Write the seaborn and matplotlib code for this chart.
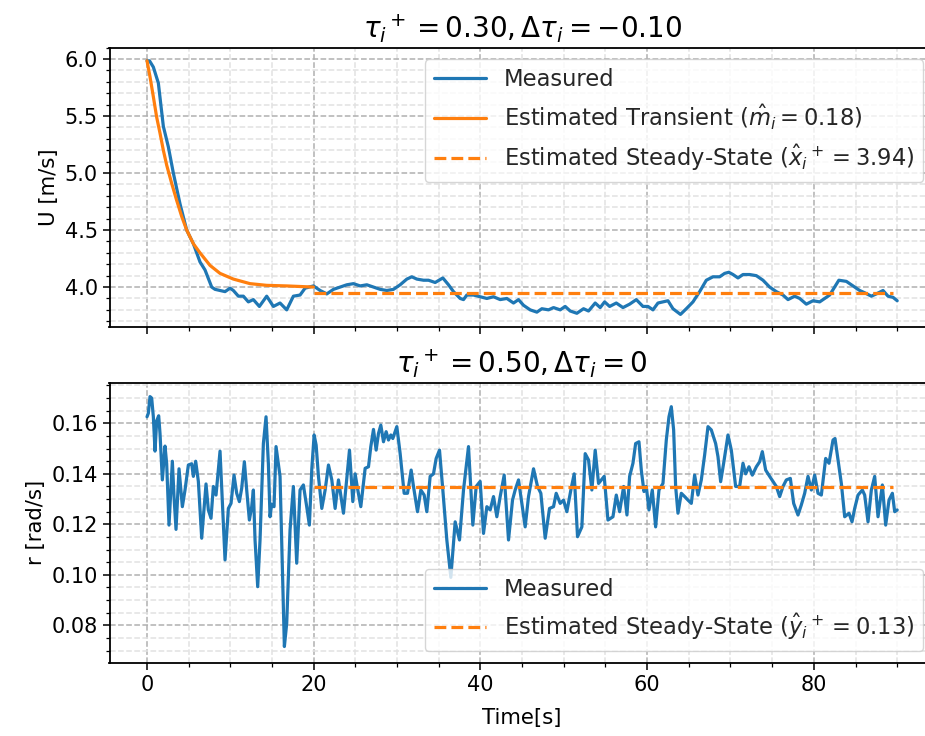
import numpy as np
import pandas as pd
import matplotlib
matplotlib.use("Agg")
import matplotlib.pyplot as plt
import seaborn as sns
from matplotlib.ticker import MultipleLocator

# ---------------- data ----------------
# Top panel: measured surge speed U [m/s]
u_time = [0.0, 0.3, 0.76, 1.36, 1.96, 2.56, 3.16, 3.96, 4.76, 5.56, 6.36, 6.96, 7.76, 8.16, 8.76,
          9.36, 9.96, 10.36, 10.96, 11.56, 12.16, 12.76, 13.48, 14.36, 15.16, 15.96, 16.76, 17.56,
          18.36, 18.96, 19.97, 20.77, 21.57, 22.37, 23.17, 23.97, 24.77, 25.57, 26.37, 27.17,
          27.97, 28.77, 29.57, 30.37, 31.17, 31.77, 32.37, 33.17, 33.77, 34.57, 35.49, 36.17,
          36.77, 37.57, 37.97, 38.37, 39.17, 39.97, 40.77, 41.57, 42.37, 43.17, 43.97, 44.57,
          45.17, 45.97, 46.77, 47.37, 48.17, 48.77, 49.57, 50.17, 50.77, 51.57, 52.37, 52.97,
          53.77, 54.37, 54.9, 55.5, 56.3, 57.1, 57.9, 58.7, 59.5, 60.1, 60.7, 61.3, 61.9, 62.5,
          63.1, 64.0, 64.7, 65.5, 66.3, 67.1, 67.9, 68.7, 69.3, 69.8, 70.3, 70.9, 71.5, 72.3,
          73.1, 73.9, 74.7, 75.5, 76.3, 76.9, 77.7, 78.3, 79.1, 79.9, 80.7, 81.3, 81.9, 82.5,
          83.0, 83.9, 84.7, 85.5, 86.1, 86.9, 87.5, 88.3, 88.9, 89.5, 90.0]
u_meas = [5.985, 5.985, 5.93, 5.79, 5.41, 5.23, 5.0, 4.73, 4.5, 4.38, 4.22, 4.15, 4.0, 3.98, 3.97,
          3.96, 3.99, 3.97, 3.92, 3.92, 3.87, 3.89, 3.83, 3.92, 3.83, 3.86, 3.80, 3.92,
          3.93, 3.99, 4.01, 3.97, 3.94, 3.98, 4.0, 4.02, 4.03, 4.01, 4.02, 4.0,
          3.98, 3.97, 3.98, 4.02, 4.07, 4.09, 4.07, 4.06, 4.06, 4.04, 4.08, 4.02,
          3.96, 3.90, 3.89, 3.93, 3.93, 3.915, 3.90, 3.915, 3.89, 3.90, 3.86, 3.89,
          3.84, 3.80, 3.78, 3.81, 3.80, 3.82, 3.80, 3.83, 3.79, 3.77, 3.81, 3.79,
          3.86, 3.82, 3.87, 3.83, 3.86, 3.82, 3.85, 3.89, 3.83, 3.83, 3.80, 3.86, 3.87, 3.88,
          3.81, 3.76, 3.81, 3.87, 3.96, 4.06, 4.09, 4.09, 4.12, 4.13, 4.11, 4.08, 4.11, 4.11,
          4.10, 4.06, 4.0, 3.96, 3.93, 3.89, 3.92, 3.90, 3.85, 3.88, 3.87, 3.90, 3.93, 4.0,
          4.06, 4.05, 4.01, 3.97, 3.95, 3.92, 3.94, 3.97, 3.92, 3.91, 3.88]

# Top panel: estimated transient
tr_time = [0.0, 0.36, 0.76, 1.16, 1.56, 1.96, 2.36, 2.96, 3.56, 4.16, 4.76, 5.56, 6.36, 7.56,
           8.76, 10.36, 12.36, 14.36, 16.76, 19.96]
tr_val = [5.985, 5.845, 5.67, 5.49, 5.35, 5.20, 5.07, 4.91, 4.76, 4.62, 4.50, 4.38, 4.30, 4.19,
          4.12, 4.07, 4.03, 4.015, 4.01, 4.0]

# Steady-state estimates
ss_start, ss_end = 20.0, 89.5
u_ss = 3.944
r_ss = 0.1347

# Bottom panel: measured yaw rate r [rad/s]
r_time = [0.0, 0.16, 0.36, 0.56, 0.76, 0.96, 1.16, 1.4, 1.56, 1.84, 2.16, 2.36, 2.64, 3.04, 3.24,
          3.48, 3.84, 4.24, 4.56, 4.96, 5.36, 5.56, 5.84, 6.16, 6.56, 7.08, 7.36, 7.68, 7.96,
          8.28, 8.76, 9.36, 9.76, 10.08, 10.44, 10.76, 11.08, 11.36, 11.68, 11.96, 12.28, 12.56,
          12.76, 12.96, 13.28, 13.56, 13.96, 14.28, 14.56, 14.76, 14.96, 15.24, 15.48, 15.96,
          16.48, 16.76, 17.16, 17.56, 17.96, 18.36, 18.76, 19.16, 19.48, 19.77, 20.05, 20.29,
          20.57, 20.97, 21.37, 21.77, 22.17, 22.57, 22.97, 23.57, 24.29, 24.69, 24.97, 25.25,
          25.65, 26.17, 26.57, 26.85, 27.17, 27.49, 27.77, 28.05, 28.37, 28.69, 28.97, 29.25,
          29.49, 29.97, 30.37, 30.85, 31.25, 31.69, 31.97, 32.45, 32.85, 33.25, 33.57, 33.97,
          34.37, 34.69, 35.09, 35.49, 35.97, 36.45, 36.97, 37.49, 37.97, 38.57, 39.09, 39.49,
          39.97, 40.37, 40.77, 41.17, 41.57, 41.97, 42.37, 42.85, 43.37, 43.85, 44.17, 44.57,
          44.97, 45.37, 45.77, 46.37, 46.85, 47.25, 47.77, 48.29, 48.77, 49.09, 49.57, 49.97,
          50.37, 50.85, 51.25, 51.65, 52.17, 52.57, 52.97, 53.37, 53.77, 54.17, 54.85, 55.3,
          55.9, 56.3, 56.7, 57.18, 57.58, 57.9, 58.3, 58.62, 59.02, 59.3, 59.62, 59.9, 60.22,
          60.62, 61.02, 61.42, 61.9, 62.3, 62.62, 62.9, 63.18, 63.42, 63.7, 64.1, 64.5, 64.9,
          65.3, 65.7, 66.1, 66.5, 66.9, 67.3, 67.7, 68.22, 68.5, 68.82, 69.18, 69.7, 70.1,
          70.62, 71.1, 71.5, 71.82, 72.22, 72.62, 73.1, 73.5, 73.82, 74.22, 74.7, 75.1, 75.5,
          75.9, 76.3, 76.7, 77.18, 77.58, 78.1, 78.5, 78.9, 79.3, 79.7, 80.1, 80.5, 80.9,
          81.42, 81.82, 82.3, 82.54, 82.9, 83.3, 83.7, 84.22, 84.58, 84.9, 85.3, 85.82, 86.1,
          86.5, 86.9, 87.3, 87.7, 88.22, 88.62, 89.02, 89.42, 89.7, 90.0]
r_meas = [0.1626, 0.164, 0.1706, 0.170, 0.1626, 0.149, 0.161, 0.163, 0.156, 0.1376, 0.151, 0.144,
          0.1197, 0.145, 0.131, 0.118, 0.142, 0.127, 0.1336, 0.1435, 0.144, 0.139, 0.145, 0.137,
          0.1145, 0.136, 0.1257, 0.1224, 0.135, 0.1316, 0.149, 0.1059, 0.1263, 0.1283, 0.1395,
          0.1323, 0.129, 0.1343, 0.1448, 0.1336, 0.1217, 0.127, 0.1336, 0.1138, 0.0953, 0.1138,
          0.152, 0.1626, 0.144, 0.123, 0.128, 0.127, 0.1508, 0.139, 0.0716, 0.0808, 0.1178,
          0.135, 0.1046, 0.1336, 0.1356, 0.127, 0.1197, 0.142, 0.1554, 0.1514, 0.1389, 0.1263,
          0.1336, 0.1435, 0.1376, 0.1263, 0.1376, 0.1244, 0.1494, 0.129, 0.140, 0.1343, 0.127,
          0.1422, 0.1428, 0.1508, 0.1576, 0.1494, 0.156, 0.1593, 0.1527, 0.1567, 0.1534, 0.1554,
          0.154, 0.1587, 0.148, 0.1323, 0.1323, 0.1415, 0.135, 0.125, 0.1336, 0.1316, 0.125,
          0.139, 0.140, 0.1461, 0.1494, 0.1336, 0.1138, 0.099, 0.121, 0.1138, 0.1336, 0.1508,
          0.1197, 0.135, 0.137, 0.1164, 0.127, 0.1257, 0.131, 0.123, 0.131, 0.1395, 0.1138,
          0.1296, 0.1336, 0.1376, 0.1283, 0.119, 0.131, 0.142, 0.135, 0.1323, 0.1145, 0.1263,
          0.127, 0.1323, 0.1283, 0.1296, 0.125, 0.1336, 0.140, 0.1151, 0.119, 0.148, 0.1455,
          0.1336, 0.1494, 0.1362, 0.139, 0.1217, 0.123, 0.1316, 0.125, 0.135, 0.1237, 0.139,
          0.1442, 0.152, 0.1527, 0.1415, 0.133, 0.135, 0.1257, 0.1336, 0.119, 0.1336, 0.1362,
          0.1534, 0.1626, 0.1666, 0.1574, 0.135, 0.1244, 0.1323, 0.131, 0.1296, 0.1283, 0.1395,
          0.1316, 0.1376, 0.1475, 0.1587, 0.1574, 0.152, 0.1468, 0.1369, 0.1442, 0.1554, 0.1494,
          0.135, 0.135, 0.1442, 0.140, 0.1428, 0.1395, 0.1428, 0.1448, 0.1488, 0.1415, 0.139,
          0.137, 0.135, 0.131, 0.135, 0.1376, 0.1382, 0.1283, 0.1237, 0.1277, 0.1323, 0.139,
          0.1336, 0.1395, 0.1323, 0.1316, 0.1461, 0.1442, 0.1534, 0.154, 0.1455, 0.1362, 0.123,
          0.1244, 0.121, 0.1263, 0.1316, 0.1336, 0.1316, 0.121, 0.1336, 0.139, 0.123, 0.1356,
          0.1197, 0.1296, 0.1323, 0.125, 0.1257]

top_title = r"${\tau_i}^+ = 0.30, \Delta\tau_i = -0.10$"
bot_title = r"${\tau_i}^+ = 0.50, \Delta\tau_i = 0$"
top_labels = ["Measured", r"Estimated Transient ($\hat{m}_i = 0.18$)",
              r"Estimated Steady-State (${\hat{x}_i}^+ = 3.94$)"]
bot_labels = ["Measured", r"Estimated Steady-State (${\hat{y}_i}^+ = 0.13$)"]

# ---------------- style ----------------
sns.set_theme(style="ticks")
plt.rcParams["font.family"] = ["DejaVu Sans"]
plt.rcParams["mathtext.fontset"] = "dejavusans"
FS_TICK = 15
FS_LAB = 15.3
FS_LEG = 16.3
FS_TITLE = 20
BLUE = "#1f77b4"
ORANGE = "#ff7f0e"
LW = 2.3

fig = plt.figure(figsize=(9.25, 7.36), dpi=100)
left, right = 109.5 / 925, 934.7 / 925
ax1 = fig.add_axes([left, 1 - 327.3 / 736, right - left, (327.3 - 47.7) / 736])
ax2 = fig.add_axes([left, 1 - 662.7 / 736, right - left, (662.7 - 382.7) / 736], sharex=ax1)

# top
sns.lineplot(x=u_time, y=u_meas, ax=ax1, color=BLUE, lw=LW, label=top_labels[0],
             estimator=None, sort=False)
sns.lineplot(x=tr_time, y=tr_val, ax=ax1, color=ORANGE, lw=LW, label=top_labels[1],
             estimator=None, sort=False)
sns.lineplot(x=[ss_start, ss_end], y=[u_ss, u_ss], ax=ax1, color=ORANGE, lw=LW,
             ls="--", label=top_labels[2], estimator=None, sort=False)

# bottom
sns.lineplot(x=r_time, y=r_meas, ax=ax2, color=BLUE, lw=LW, label=bot_labels[0],
             estimator=None, sort=False)
sns.lineplot(x=[ss_start, ss_end], y=[r_ss, r_ss], ax=ax2, color=ORANGE, lw=LW,
             ls="--", label=bot_labels[1], estimator=None, sort=False)

ax1.set_xlim(-4.5, 94.5)
ax1.set_ylim(3.647, 6.10)
ax2.set_ylim(0.0652, 0.1761)

for ax in (ax1, ax2):
    ax.xaxis.set_major_locator(MultipleLocator(20))
    ax.xaxis.set_minor_locator(MultipleLocator(5))
    ax.grid(which="major", ls="--", color="#b0b0b0", lw=1.1)
    ax.grid(which="minor", ls="--", color="#e2e2e2", lw=1.1)
    ax.set_axisbelow(True)
    for s in ax.spines.values():
        s.set_color("black")
        s.set_linewidth(1.3)
    ax.tick_params(which="major", direction="out", length=5, width=1.1,
                   labelsize=FS_TICK, color="black", labelcolor="black")
    ax.tick_params(which="minor", direction="out", length=3, width=0.9, color="black")

ax1.yaxis.set_major_locator(MultipleLocator(0.5))
ax1.yaxis.set_minor_locator(MultipleLocator(0.1))
ax2.yaxis.set_major_locator(MultipleLocator(0.02))
ax2.yaxis.set_minor_locator(MultipleLocator(0.005))
ax1.tick_params(labelbottom=False)

ax1.set_ylabel("U [m/s]", fontsize=FS_LAB, color="black")
ax2.set_ylabel("r [rad/s]", fontsize=FS_LAB, color="black")
ax1.set_xlabel("")
ax2.set_xlabel("Time[s]", fontsize=FS_LAB, color="black", labelpad=10)
fig.align_ylabels([ax1, ax2])
ax1.set_title(top_title, fontsize=FS_TITLE, color="black", pad=7)
ax2.set_title(bot_title, fontsize=FS_TITLE, color="black", pad=7)

ax1.legend(loc="upper right", fontsize=FS_LEG, handlelength=2.3, framealpha=0.8,
           edgecolor="#cccccc", fancybox=True)
ax2.legend(loc="lower right", fontsize=FS_LEG, handlelength=2.3, framealpha=0.8,
           edgecolor="#cccccc", fancybox=True)

fig.savefig("out.png", dpi=100)
